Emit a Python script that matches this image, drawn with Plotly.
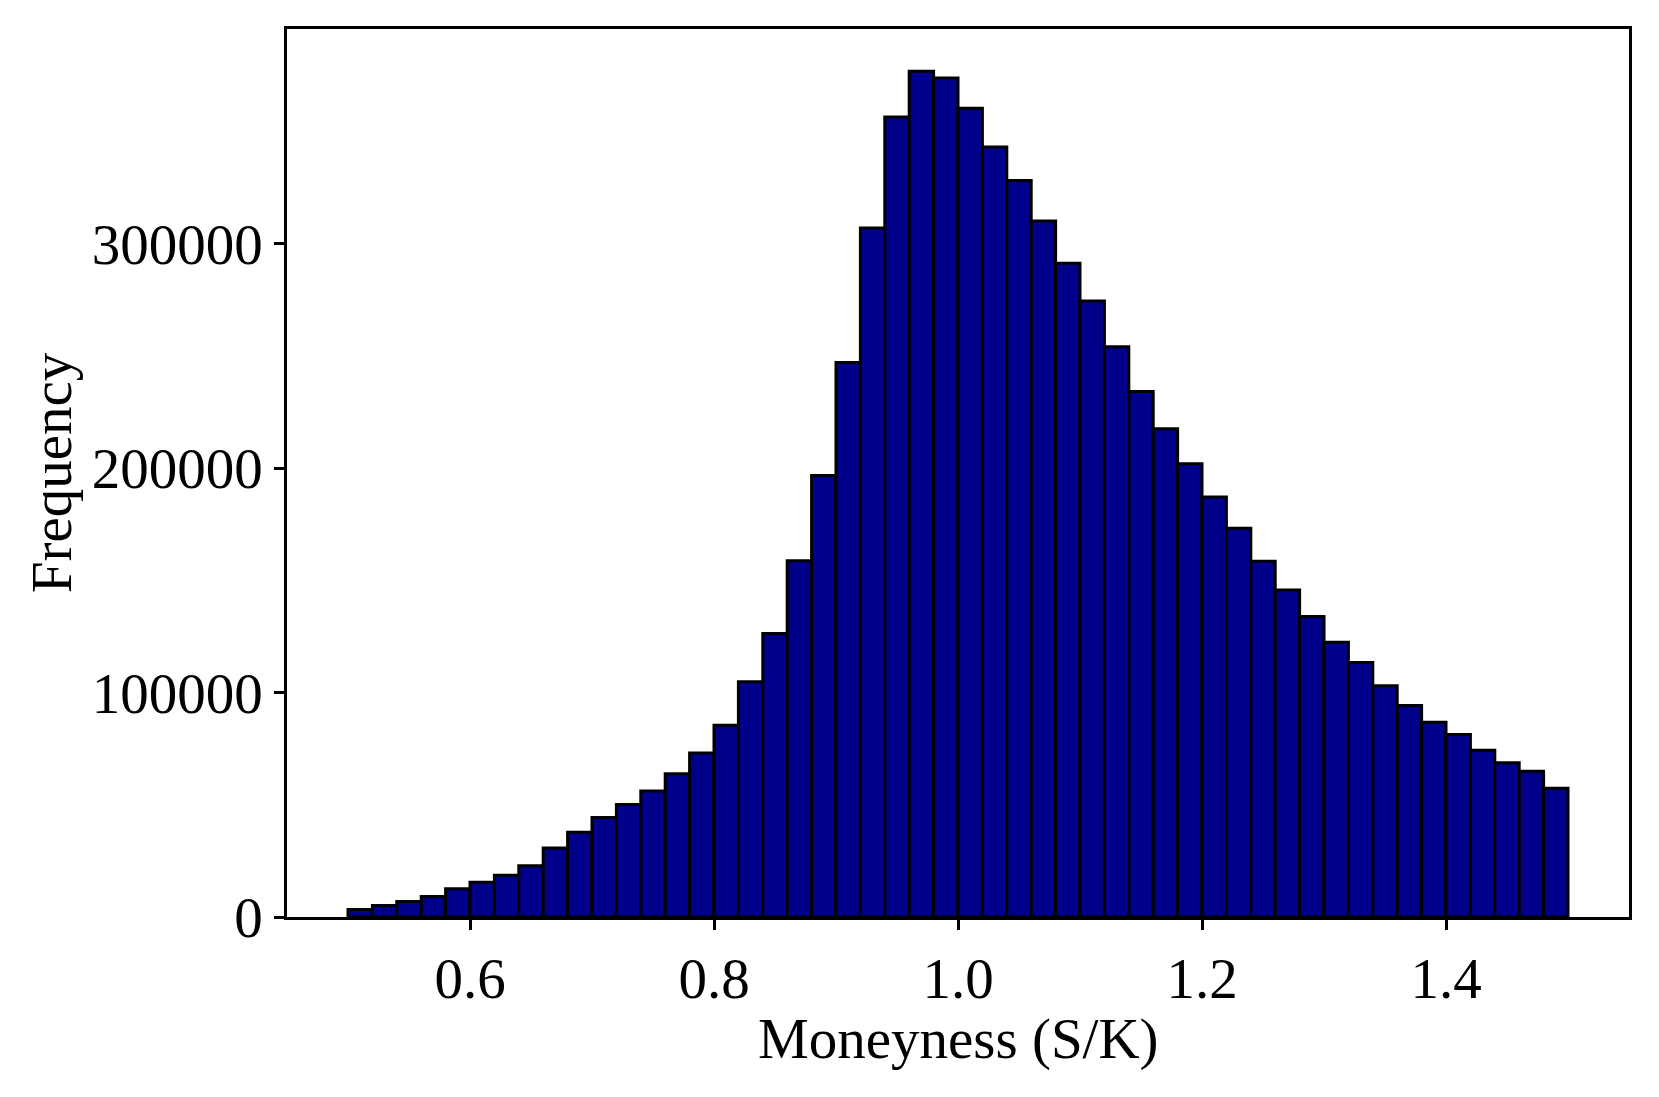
import plotly.graph_objects as go

# Histogram bins (left edges, width 0.02) and counts
bin_left = [0.50, 0.52, 0.54, 0.56, 0.58, 0.60, 0.62, 0.64, 0.66, 0.68,
            0.70, 0.72, 0.74, 0.76, 0.78, 0.80, 0.82, 0.84, 0.86, 0.88,
            0.90, 0.92, 0.94, 0.96, 0.98, 1.00, 1.02, 1.04, 1.06, 1.08,
            1.10, 1.12, 1.14, 1.16, 1.18, 1.20, 1.22, 1.24, 1.26, 1.28,
            1.30, 1.32, 1.34, 1.36, 1.38, 1.40, 1.42, 1.44, 1.46, 1.48]
bin_width = 0.02
counts = [3300, 5100, 6900, 9100, 12600, 15500, 18600, 22800, 30700, 37800,
          44300, 50100, 56200, 63800, 73100, 85400, 104800, 126300, 158800, 196800,
          247100, 307100, 356500, 376900, 373900, 360400, 343200, 328200, 310200, 291400,
          274500, 254100, 234200, 217600, 202000, 187200, 173200, 158500, 145700, 133900,
          122400, 113400, 103100, 94300, 86800, 81300, 74300, 68700, 64900, 57400]

x_ticks = [0.6, 0.8, 1.0, 1.2, 1.4]
y_ticks = [0, 100000, 200000, 300000]

FONT = "Liberation Serif"
FS = 57

fig = go.Figure()
fig.add_trace(go.Bar(
    x=bin_left,
    y=counts,
    width=[bin_width] * len(bin_left),
    offset=0,
    marker=dict(color="#00008B", line=dict(color="black", width=3)),
    showlegend=False,
))

fig.update_layout(
    width=1651,
    height=1089,
    margin=dict(l=279, r=30, t=21, b=180),
    paper_bgcolor="white",
    plot_bgcolor="white",
    font=dict(family=FONT, size=FS, color="black"),
    annotations=[dict(
        text="Moneyness (S/K)", xref="paper", yref="paper",
        x=0.5, y=-0.137, xanchor="center", yanchor="middle",
        showarrow=False, font=dict(family=FONT, size=FS),
    )],
)

fig.update_xaxes(
    range=[0.45, 1.55],
    tickvals=x_ticks,
    tickformat=".1f",
    ticks="outside",
    ticklen=10,
    tickwidth=2.5,
    tickcolor="black",
    showline=True,
    linecolor="black",
    linewidth=2.5,
    mirror=True,
    showgrid=False,
    zeroline=False,
)

fig.update_yaxes(
    range=[0, 1.05 * max(counts)],
    tickvals=y_ticks,
    tickformat="d",
    ticks="outside",
    ticklen=10,
    tickwidth=2.5,
    tickcolor="black",
    showline=True,
    linecolor="black",
    linewidth=2.5,
    mirror=True,
    showgrid=False,
    zeroline=False,
    ticklabelstandoff=0,
    title=dict(text="Frequency", font=dict(family=FONT, size=FS), standoff=2),
)

fig.write_html("out.html")
